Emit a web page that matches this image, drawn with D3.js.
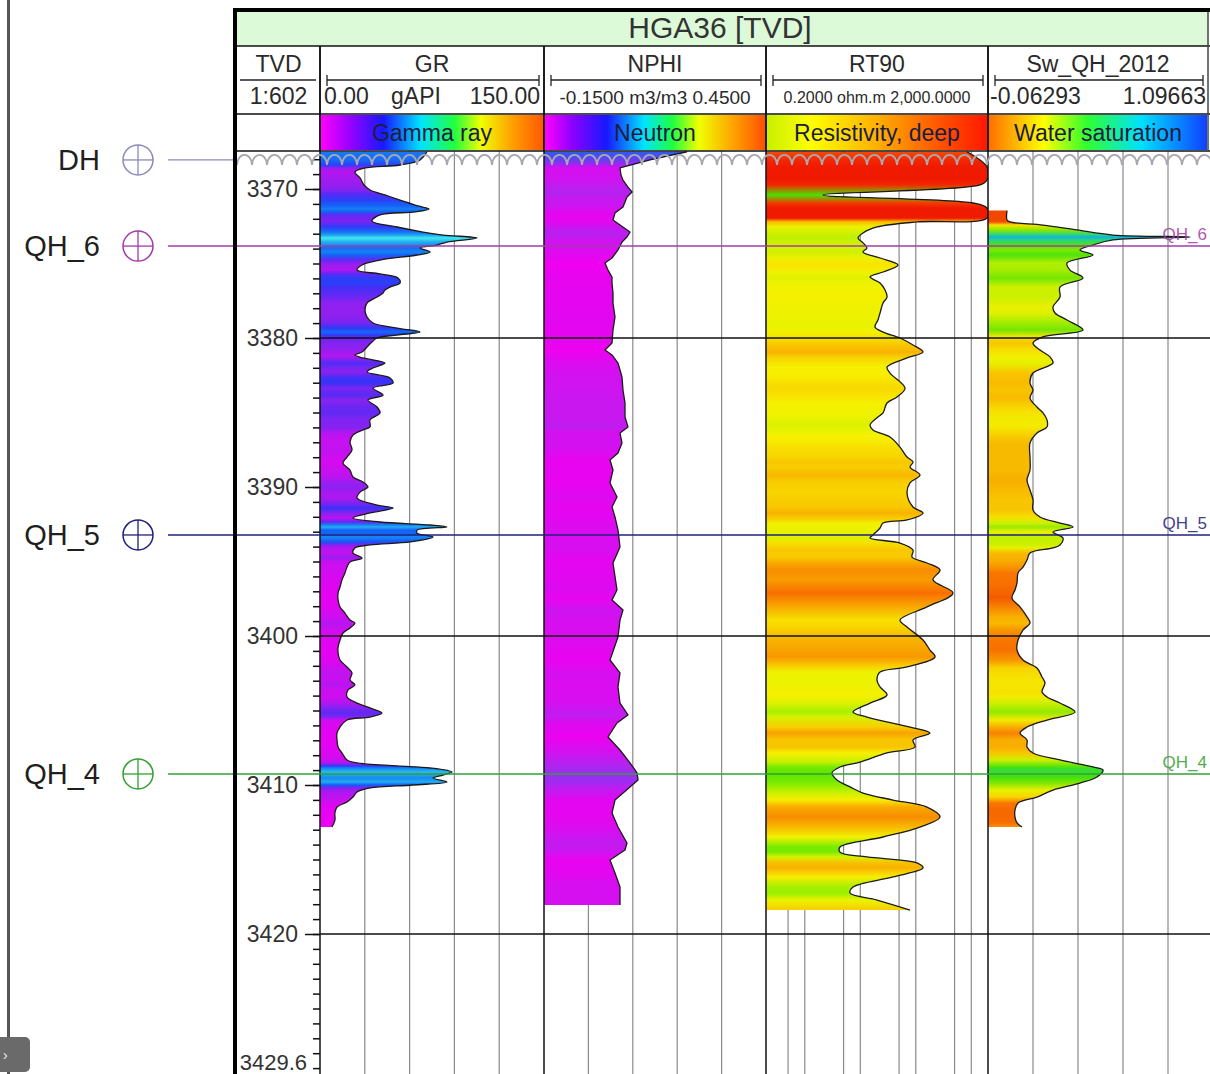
<!DOCTYPE html>
<html>
<head>
<meta charset="utf-8">
<script src="https://cdn.jsdelivr.net/npm/d3@7"></script>
<style>
  body { margin: 0; background: #fff; }
  svg { display: block; font-family: "Liberation Sans", Arial, sans-serif; }
</style>
</head>
<body>
<svg id="chart" width="1210" height="1074"></svg>
<script>
// ---- Well HGA36, TVD log section ----
// Curves: [depth (m TVD), value]
const grCurve = [
  [3367.5,71.6],[3368.05,67.0],[3368.39,53.6],[3368.59,30.1],[3368.86,23.4],[3369.26,26.8],[3369.73,29.5],[3370.07,33.5],
  [3370.40,43.5],[3370.74,53.6],[3371.14,65.6],[3371.34,73.0],[3371.54,63.6],[3371.74,40.2],[3372.15,34.8],[3372.55,51.6],
  [3372.89,69.0],[3373.09,82.4],[3373.29,105.1],[3373.56,85.0],[3373.76,78.3],[3373.96,67.0],[3374.23,73.7],[3374.43,65.0],
  [3374.77,40.2],[3375.10,28.1],[3375.44,24.8],[3375.70,40.2],[3375.97,52.2],[3376.31,53.6],[3376.58,46.9],[3376.78,43.5],
  [3376.98,42.2],[3377.25,38.2],[3377.65,31.5],[3378.12,30.1],[3378.59,31.5],[3378.99,35.5],[3379.33,51.6],[3379.60,67.0],
  [3379.80,51.6],[3380.00,38.2],[3380.27,34.8],[3380.60,31.5],[3380.94,28.1],[3381.14,23.4],[3381.34,28.8],[3381.68,43.5],
  [3382.01,35.5],[3382.28,31.5],[3382.68,46.9],[3383.02,48.9],[3383.36,35.5],[3383.83,42.2],[3384.16,32.1],[3384.63,38.2],
  [3385.03,40.2],[3385.50,33.5],[3385.97,33.5],[3386.17,28.8],[3386.51,22.1],[3386.98,20.1],[3387.52,21.4],[3387.99,18.1],
  [3388.39,15.4],[3388.86,20.1],[3389.33,22.1],[3389.66,28.8],[3390.00,32.1],[3390.34,26.8],[3390.74,24.8],[3391.21,38.2],
  [3391.41,48.9],[3391.74,33.5],[3392.08,22.1],[3392.35,40.2],[3392.55,73.7],[3392.68,85.0],[3392.89,65.0],[3393.09,65.0],
  [3393.36,75.7],[3393.69,60.3],[3393.89,33.5],[3394.09,23.4],[3394.43,22.1],[3394.77,28.1],[3395.03,20.1],[3395.37,18.1],
  [3395.77,16.7],[3396.24,14.7],[3396.71,13.4],[3397.11,12.1],[3397.58,12.1],[3398.05,13.4],[3398.46,16.7],[3398.93,20.1],
  [3399.13,23.4],[3399.46,20.1],[3399.80,15.4],[3400.27,13.4],[3400.74,12.1],[3401.14,12.1],[3401.61,13.4],[3402.08,18.1],
  [3402.48,21.4],[3402.95,20.1],[3403.29,23.4],[3403.62,18.8],[3404.09,18.1],[3404.50,24.8],[3404.83,33.5],[3405.17,41.5],
  [3405.44,33.5],[3405.64,18.1],[3406.11,13.4],[3406.51,11.4],[3406.98,11.4],[3407.45,12.1],[3407.85,14.7],[3408.32,18.1],
  [3408.52,24.8],[3408.72,51.6],[3408.86,73.7],[3409.13,88.4],[3409.33,82.4],[3409.53,75.7],[3409.80,85.0],[3410.00,62.3],
  [3410.20,33.5],[3410.47,24.8],[3410.81,22.1],[3411.14,18.1],[3411.48,11.4],[3411.88,10.0],[3412.35,10.0],[3412.82,8.0]
];

const nphiCurve = [
  [3367.5,0.2365],[3368.05,0.1365],[3368.59,0.0554],[3369.06,0.058],[3369.40,0.0635],[3369.87,0.077],[3370.20,0.088],
  [3370.54,0.0743],[3371.21,0.0635],[3371.61,0.0419],[3372.08,0.0365],[3372.42,0.0554],[3372.89,0.0824],[3373.22,0.0743],
  [3373.56,0.0608],[3374.09,0.05],[3374.63,0.0338],[3374.97,0.0149],[3375.44,0.023],[3375.91,0.0338],[3376.31,0.0338],
  [3376.98,0.0365],[3377.65,0.0365],[3378.59,0.0419],[3379.46,0.0365],[3380.34,0.0338],[3380.81,0.0149],[3381.14,0.0338],
  [3381.68,0.05],[3382.62,0.0608],[3383.49,0.0635],[3384.36,0.0689],[3385.30,0.0689],[3385.97,0.077],[3386.38,0.0554],
  [3387.05,0.0608],[3387.72,0.05],[3388.19,0.0284],[3388.86,0.0365],[3389.73,0.0284],[3390.67,0.0473],[3391.34,0.0338],
  [3392.01,0.0419],[3392.89,0.05],[3394.03,0.0554],[3395.10,0.0365],[3396.91,0.0473],[3397.58,0.0338],[3398.26,0.0635],
  [3398.93,0.0554],[3400.07,0.05],[3401.61,0.0284],[3402.48,0.0554],[3403.42,0.05],[3404.50,0.0554],[3405.30,0.077],
  [3405.84,0.0473],[3406.78,0.023],[3407.65,0.0554],[3408.52,0.0824],[3409.19,0.1014],[3409.66,0.1041],[3410.13,0.0824],
  [3411.01,0.0419],[3411.88,0.0338],[3412.82,0.05],[3413.89,0.0743],[3414.36,0.0689],[3415.03,0.0284],[3415.91,0.0419],
  [3416.85,0.0554],[3417.52,0.0554],[3418.05,0.0554]
];

const rtCurve = [
  [3367.5,837],[3368.05,1435],[3368.52,1919],[3369.40,1919],[3369.73,1435],[3370.40,2.13],[3370.94,1074],[3371.28,1919],
  [3371.95,1919],[3372.21,105],[3372.55,20.0],[3372.95,11.2],[3373.29,9.1],[3373.62,11.2],[3373.96,13.2],[3374.23,11.2],
  [3374.63,22.7],[3375.10,47.8],[3375.57,25.7],[3375.91,15.0],[3376.31,22.7],[3376.78,27.9],[3377.25,30.3],[3377.65,25.7],
  [3378.32,22.7],[3378.79,20.8],[3379.26,18.4],[3379.60,25.7],[3380.00,51.9],[3380.47,89.1],[3380.94,135],[3381.34,69.5],
  [3381.95,30.3],[3382.35,34.3],[3383.36,64.0],[3383.96,45.9],[3384.36,30.3],[3385.03,25.7],[3385.30,20.8],[3385.84,15.0],
  [3386.17,16.9],[3386.64,34.3],[3387.32,51.9],[3387.99,69.5],[3388.32,89.1],[3388.66,78.7],[3389.19,119],[3389.73,78.7],
  [3390.40,69.5],[3391.34,89.1],[3391.74,135],[3392.21,69.5],[3392.42,25.7],[3392.75,22.7],[3393.22,16.9],[3393.42,15.0],
  [3393.76,51.9],[3394.23,89.1],[3394.70,85.5],[3395.10,159],[3395.57,273],[3396.24,204],[3397.11,468],[3398.05,159],
  [3398.93,51.9],[3399.40,69.5],[3400.27,135],[3400.94,180],[3401.41,222],[3402.08,69.5],[3402.42,22.7],[3402.95,20.0],
  [3403.42,22.7],[3403.96,30.3],[3404.50,15.0],[3405.10,7.39],[3405.44,13.2],[3406.11,78.7],[3406.51,180],[3406.98,89.1],
  [3407.45,96.8],[3407.85,30.3],[3408.46,9.88],[3408.79,4.31],[3409.19,3.09],[3409.66,3.80],[3410.13,6.53],[3410.54,11.2],
  [3411.01,38.8],[3411.48,159],[3412.15,273],[3412.82,119],[3413.49,25.7],[3414.16,4.31],[3414.50,4.31],[3414.83,13.2],
  [3415.23,105],[3415.57,135],[3416.17,38.8],[3416.85,7.39],[3417.25,6.53],[3417.72,20.0],[3418.39,78.7]
];

const swCurve = [
  [3371.45,0.035],[3372.08,0.035],[3372.21,0.0505],[3372.42,0.2205],[3372.75,0.3957],[3373.09,0.5813],[3373.22,0.9781],
  [3373.42,0.5813],[3373.76,0.4782],[3374.09,0.4112],[3374.43,0.4782],[3374.97,0.3442],[3375.44,0.3597],[3375.97,0.4267],
  [3376.58,0.3081],[3377.25,0.3081],[3377.92,0.2720],[3378.32,0.2823],[3378.79,0.3442],[3379.46,0.4267],[3379.93,0.2205],
  [3380.34,0.1690],[3380.81,0.2050],[3381.27,0.2566],[3381.68,0.2720],[3382.35,0.1690],[3383.02,0.1535],[3383.49,0.1690],
  [3384.03,0.1535],[3384.63,0.1896],[3385.03,0.2205],[3385.50,0.2411],[3385.97,0.2411],[3386.38,0.1896],[3387.05,0.1535],
  [3387.99,0.1535],[3388.86,0.1535],[3389.53,0.1381],[3390.20,0.1535],[3390.87,0.1690],[3391.54,0.1690],[3392.01,0.2050],
  [3392.42,0.3081],[3392.68,0.3751],[3393.02,0.2720],[3393.42,0.3236],[3393.89,0.3081],[3394.09,0.2720],[3394.43,0.1535],
  [3394.90,0.1381],[3395.37,0.1175],[3395.77,0.0917],[3396.44,0.0866],[3396.91,0.0762],[3397.45,0.0608],[3398.05,0.1020],
  [3398.72,0.1381],[3399.13,0.1535],[3399.60,0.1175],[3400.27,0.0917],[3400.94,0.0866],[3401.61,0.1175],[3402.15,0.1896],
  [3402.75,0.2153],[3403.15,0.2308],[3403.76,0.2153],[3404.09,0.2411],[3404.50,0.3081],[3405.10,0.3854],[3405.64,0.2411],
  [3406.11,0.1381],[3406.51,0.1020],[3406.98,0.1381],[3407.45,0.1381],[3407.85,0.1690],[3408.32,0.3081],[3408.79,0.4782],
  [3408.99,0.5298],[3409.46,0.4988],[3409.87,0.4112],[3410.34,0.2720],[3410.81,0.1896],[3411.21,0.0917],[3411.68,0.0762],
  [3412.15,0.0762],[3412.55,0.0866],[3412.82,0.1123]
];

// Well tops
const topNames  = ["DH", "QH_6", "QH_5", "QH_4"];
const topDepths = [3368.05, 3373.83, 3393.22, 3409.26];

// Depth axis
const majorDepths = [3370, 3380, 3390, 3400, 3410, 3420];
const gridDepths  = [3380, 3400, 3420];
const bottomDepthLabel = "3429.6";

// Track scale limits
const grRange   = [0, 150];
const nphiRange = [-0.15, 0.45];
const rtRange   = [0.2, 2000];
const swRange   = [-0.06293, 1.09663];
const rtGridValues = [0.5, 1, 5, 10, 50, 100, 500, 1000];

// ---- layout ----
const W = 1210, H = 1074;
const dataTop = 151;
const T = {
  tvd:  [237, 320],
  gr:   [320, 544],
  nphi: [544, 766],
  rt:   [766, 988],
  sw:   [988, 1213]
};

const svg = d3.select("#chart");
const defs = svg.append("defs");

const y = d3.scaleLinear().domain([3370, 3420]).range([189, 934]);
const xGR = d3.scaleLinear().domain(grRange).range(T.gr);
const xNPHI = d3.scaleLinear().domain(nphiRange).range(T.nphi);
const xRT = d3.scaleLog().domain(rtRange).range(T.rt);
const xSW = d3.scaleLinear().domain(swRange).range(T.sw);

// fill colour tables
const grColor = d3.scaleLinear()
  .domain([10, 20, 32, 48, 62, 78, 95, 110])
  .range(["#ea00f2", "#c810f0", "#8a22f0", "#3a30f8", "#1458f8", "#1890f0", "#30d8f0", "#48f0f0"]).clamp(true);
const nphiColor = d3.scaleLinear()
  .domain([0.015, 0.04, 0.07, 0.1, 0.14, 0.24])
  .range(["#f000f0", "#e406f0", "#c818f0", "#a02cf0", "#6040f0", "#2a5cf0"]).clamp(true);
const rtColor = d3.scaleLog()
  .domain([2, 4, 7, 10, 18, 35, 70, 140, 300, 600, 1200, 2000])
  .range(["#48e000", "#70ea00", "#a0f000", "#c8f000", "#e8f200", "#f8f000", "#f8d400", "#f8b000", "#f88800", "#f86000", "#f43000", "#f01800"]).clamp(true);
const swColor = d3.scaleLinear()
  .domain([0.04, 0.09, 0.14, 0.2, 0.26, 0.32, 0.4, 0.5, 0.6, 1.0])
  .range(["#f04800", "#f87400", "#f8b000", "#f8dc00", "#f0f000", "#c4f000", "#88e800", "#40e010", "#20d0a0", "#10b0e0"]).clamp(true);

svg.append("rect").attr("width", W).attr("height", H).attr("fill", "#fff");

// clip regions per track
Object.entries(T).forEach(([k, [a, b]]) => {
  defs.append("clipPath").attr("id", "clip-" + k)
    .append("rect").attr("x", a).attr("y", dataTop).attr("width", b - a).attr("height", H - dataTop);
});

const plot = svg.append("g");

// vertical grid lines
function vGrid(xs) {
  plot.append("g").selectAll("line").data(xs).join("line")
    .attr("x1", d => d).attr("x2", d => d).attr("y1", dataTop).attr("y2", H)
    .attr("stroke", "#8a8a8a").attr("stroke-width", 1.2);
}
vGrid(d3.range(1, 5).map(k => xGR(grRange[0] + k * (grRange[1] - grRange[0]) / 5)));
vGrid(d3.range(1, 5).map(k => xNPHI(nphiRange[0] + k * (nphiRange[1] - nphiRange[0]) / 5)));
vGrid(rtGridValues.map(v => xRT(v)));
vGrid(d3.range(1, 5).map(k => xSW(swRange[0] + k * (swRange[1] - swRange[0]) / 5)));

// colour-filled curves
function drawCurve(data, xs, x0, color, id, curve) {
  const top = y(data[0][0]), bot = y(data[data.length - 1][0]);
  const grad = defs.append("linearGradient").attr("id", "grad-" + id)
    .attr("gradientUnits", "userSpaceOnUse")
    .attr("x1", 0).attr("x2", 0).attr("y1", top).attr("y2", bot);
  grad.selectAll("stop").data(data).join("stop")
    .attr("offset", d => (y(d[0]) - top) / (bot - top))
    .attr("stop-color", d => color(d[1]));
  const area = d3.area().y(d => y(d[0])).x0(x0).x1(d => xs(d[1])).curve(curve);
  const line = d3.line().y(d => y(d[0])).x(d => xs(d[1])).curve(curve);
  const g = plot.append("g").attr("clip-path", `url(#clip-${id})`);
  g.append("path").attr("d", area(data)).attr("fill", `url(#grad-${id})`);
  g.append("path").attr("d", line(data)).attr("fill", "none")
    .attr("stroke", "#1a1a1a").attr("stroke-width", 1.3).attr("stroke-linejoin", "round");
}
drawCurve(grCurve, xGR, T.gr[0], grColor, "gr", d3.curveCatmullRom.alpha(0.5));
drawCurve(nphiCurve, xNPHI, T.nphi[0], nphiColor, "nphi", d3.curveLinear);
drawCurve(rtCurve, xRT, T.rt[0], rtColor, "rt", d3.curveCatmullRom.alpha(0.5));
drawCurve(swCurve, xSW, T.sw[0], swColor, "sw", d3.curveCatmullRom.alpha(0.5));

// horizontal depth grid
plot.append("g").selectAll("line").data(gridDepths).join("line")
  .attr("x1", T.gr[0]).attr("x2", W).attr("y1", d => y(d)).attr("y2", d => y(d))
  .attr("stroke", "#111").attr("stroke-width", 1.5);

// track borders
plot.append("g").selectAll("line").data([T.gr[0], T.nphi[0], T.rt[0], T.sw[0]]).join("line")
  .attr("x1", d => d).attr("x2", d => d).attr("y1", 46).attr("y2", H)
  .attr("stroke", "#111").attr("stroke-width", 1.5);

// depth axis
const minorAxis = d3.axisLeft(y).tickValues(d3.range(3368, 3430, 1)).tickSize(7).tickFormat("");
const majorAxis = d3.axisLeft(y).tickValues(majorDepths).tickSize(15).tickPadding(7).tickFormat(d3.format("d"));
[minorAxis, majorAxis].forEach(ax => {
  const g = plot.append("g").attr("transform", `translate(${T.gr[0]},0)`).call(ax);
  g.select(".domain").remove();
  g.selectAll("line").attr("stroke", "#111").attr("stroke-width", 1.5);
  g.selectAll("text").attr("font-size", 23).attr("fill", "#333")
    .attr("font-family", "Liberation Sans, Arial, sans-serif");
});
plot.append("text").attr("x", T.gr[0] - 13).attr("y", 1070).attr("text-anchor", "end")
  .attr("font-size", 22).attr("fill", "#333").text(bottomDepthLabel);

// well tops
const topColors = ["#8a8abb", "#a03ca8", "#20207e", "#32a032"];
const topG = svg.append("g");
topNames.forEach((name, i) => {
  const yy = y(topDepths[i]);
  const c = topColors[i];
  topG.append("text").attr("x", 100).attr("y", yy + 10).attr("text-anchor", "end")
    .attr("font-size", 29).attr("fill", "#1f1f1f").text(name);
  topG.append("circle").attr("cx", 138).attr("cy", yy).attr("r", 15)
    .attr("fill", "none").attr("stroke", c).attr("stroke-width", 1.5);
  topG.append("line").attr("x1", 123).attr("x2", 153).attr("y1", yy).attr("y2", yy).attr("stroke", c).attr("stroke-width", 1.3);
  topG.append("line").attr("x1", 138).attr("x2", 138).attr("y1", yy - 15).attr("y2", yy + 15).attr("stroke", c).attr("stroke-width", 1.3);
  if (i === 0) {
    topG.append("line").attr("x1", 168).attr("x2", T.tvd[0]).attr("y1", yy).attr("y2", yy)
      .attr("stroke", c).attr("stroke-width", 1.3);
    // wavy unconformity symbol across the tracks
    let p = `M${T.tvd[0]},${yy + 5}`;
    for (let x = T.tvd[0]; x < W; x += 15) p += `A7.5,10 0 0 1 ${x + 15},${yy + 5}`;
    topG.append("path").attr("d", p).attr("fill", "none").attr("stroke", "#a8a8b2").attr("stroke-width", 1.8);
  } else {
    topG.append("line").attr("x1", 168).attr("x2", W).attr("y1", yy).attr("y2", yy)
      .attr("stroke", c).attr("stroke-width", 1.4);
    topG.append("text").attr("x", 1207).attr("y", yy - 6).attr("text-anchor", "end")
      .attr("font-size", 17).attr("fill", c).attr("opacity", 0.85).text(name);
  }
});

// ---- header ----
const head = svg.append("g");
head.append("rect").attr("x", T.tvd[0]).attr("y", 12).attr("width", 1208 - T.tvd[0]).attr("height", 34).attr("fill", "#dcfad8");
head.append("text").attr("x", 720).attr("y", 38).attr("text-anchor", "middle")
  .attr("font-size", 30).attr("fill", "#333").text("HGA36 [TVD]");

[[46, 1.5], [114, 1.5], [151, 1.5]].forEach(([yy, w]) =>
  head.append("line").attr("x1", T.tvd[0]).attr("x2", W).attr("y1", yy).attr("y2", yy).attr("stroke", "#111").attr("stroke-width", w));
head.append("line").attr("x1", 1208).attr("x2", 1208).attr("y1", 12).attr("y2", 151).attr("stroke", "#444").attr("stroke-width", 1.5);

const nameY = 72, scaleY = 104;
const txt = (x, yy, s, size, anchor = "middle", fill = "#2a2a2a") =>
  head.append("text").attr("x", x).attr("y", yy).attr("text-anchor", anchor)
    .attr("font-size", size).attr("fill", fill).text(s);

// TVD column
txt((T.tvd[0] + T.tvd[1]) / 2, nameY, "TVD", 23);
head.append("line").attr("x1", 240).attr("x2", 316).attr("y1", 80).attr("y2", 80).attr("stroke", "#222").attr("stroke-width", 1.3);
txt((T.tvd[0] + T.tvd[1]) / 2, scaleY, "1:602", 23);

// curve name + scale bar
function scaleBar(track, name) {
  const [a, b] = T[track];
  const r = Math.min(b, 1208);
  txt((a + r) / 2, nameY, name, 23);
  const x1 = a + 7, x2 = r - 5;
  head.append("line").attr("x1", x1).attr("x2", x2).attr("y1", 80).attr("y2", 80).attr("stroke", "#222").attr("stroke-width", 1.3);
  [x1, x2].forEach(x => head.append("line").attr("x1", x).attr("x2", x).attr("y1", 75).attr("y2", 86).attr("stroke", "#222").attr("stroke-width", 1.3));
}
scaleBar("gr", "GR");
scaleBar("nphi", "NPHI");
scaleBar("rt", "RT90");
scaleBar("sw", "Sw_QH_2012");

txt(T.gr[0] + 4, scaleY, grRange[0].toFixed(2), 23, "start");
txt(416, scaleY, "gAPI", 23);
txt(T.gr[1] - 4, scaleY, grRange[1].toFixed(2), 23, "end");
txt((T.nphi[0] + T.nphi[1]) / 2, scaleY, `${nphiRange[0].toFixed(4)} m3/m3 ${nphiRange[1].toFixed(4)}`, 19);
txt((T.rt[0] + T.rt[1]) / 2, scaleY - 1, `${rtRange[0].toFixed(4)} ohm.m ${d3.format(",.4f")(rtRange[1])}`, 16);
txt(T.sw[0] + 2, scaleY, swRange[0].toFixed(5), 23, "start");
txt(1206, scaleY, swRange[1].toFixed(5), 23, "end");

// colour table bars
const bars = [
  ["gr", "Gamma ray", [[0, "#ff00ff"], [0.12, "#a000ff"], [0.28, "#1818ff"], [0.45, "#00e4ff"], [0.6, "#20ff40"], [0.72, "#f0ff00"], [0.86, "#ffa000"], [1, "#ff5a00"]]],
  ["nphi", "Neutron", [[0, "#ff00ff"], [0.12, "#9000ff"], [0.28, "#1818ff"], [0.45, "#00e4ff"], [0.58, "#20ff40"], [0.7, "#f0ff00"], [0.86, "#ffa000"], [1, "#ff5000"]]],
  ["rt", "Resistivity, deep", [[0, "#c8f000"], [0.2, "#ffff00"], [0.5, "#ffb000"], [0.8, "#ff5000"], [1, "#ff1800"]]],
  ["sw", "Water saturation", [[0, "#ff7000"], [0.25, "#ffff00"], [0.45, "#30ff30"], [0.7, "#00e0ff"], [1, "#1040ff"]]]
];
bars.forEach(([track, label, stops]) => {
  const [a, b] = T[track];
  const r = Math.min(b, 1208);
  const g = defs.append("linearGradient").attr("id", "bar-" + track);
  g.selectAll("stop").data(stops).join("stop").attr("offset", d => d[0]).attr("stop-color", d => d[1]);
  head.append("rect").attr("x", a + 1).attr("y", 115).attr("width", r - a - 2).attr("height", 35).attr("fill", `url(#bar-${track})`);
  txt((a + r) / 2, 141, label, 23, "middle", "#1c1c40");
});
// header column dividers
[T.gr[0], T.nphi[0], T.rt[0], T.sw[0]].forEach(x =>
  head.append("line").attr("x1", x).attr("x2", x).attr("y1", 46).attr("y2", 151).attr("stroke", "#111").attr("stroke-width", 1.5));

// outer frame
svg.append("rect").attr("x", 233).attr("y", 8).attr("width", W - 233).attr("height", 4).attr("fill", "#000");
svg.append("rect").attr("x", 233).attr("y", 8).attr("width", 4).attr("height", H - 8).attr("fill", "#000");
svg.append("rect").attr("x", 7).attr("y", 0).attr("width", 3).attr("height", H).attr("fill", "#555");
svg.append("rect").attr("x", -6).attr("y", 1037).attr("width", 36).attr("height", 35).attr("rx", 5).attr("fill", "#6a6a6a");
svg.append("text").attr("x", 3).attr("y", 1060).attr("font-size", 14).attr("fill", "#eee").text("›");
</script>
</body>
</html>
